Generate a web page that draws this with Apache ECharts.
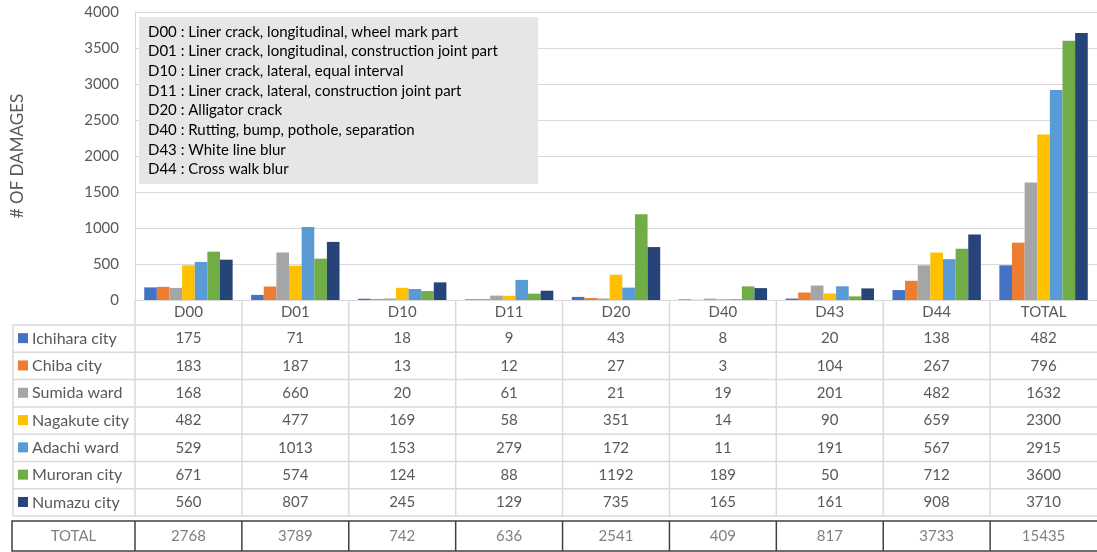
<!DOCTYPE html>
<html>
<head>
<meta charset="utf-8">
<script src="https://cdn.jsdelivr.net/npm/echarts@6/dist/echarts.min.js"></script>
<style>
html,body{margin:0;padding:0;background:#fff;}
#main{width:1097px;height:552px;}
</style>
</head>
<body>
<div id="main"></div>
<script>
// ---- data ----
const categories = ['D00', 'D01', 'D10', 'D11', 'D20', 'D40', 'D43', 'D44', 'TOTAL'];
const cities = ['Ichihara city', 'Chiba city', 'Sumida ward', 'Nagakute city', 'Adachi ward', 'Muroran city', 'Numazu city'];
const ichihara = [175, 71, 18, 9, 43, 8, 20, 138, 482];
const chiba    = [183, 187, 13, 12, 27, 3, 104, 267, 796];
const sumida   = [168, 660, 20, 61, 21, 19, 201, 482, 1632];
const nagakute = [482, 477, 169, 58, 351, 14, 90, 659, 2300];
const adachi   = [529, 1013, 153, 279, 172, 11, 191, 567, 2915];
const muroran  = [671, 574, 124, 88, 1192, 189, 50, 712, 3600];
const numazu   = [560, 807, 245, 129, 735, 165, 161, 908, 3710];
const columnTotals = [2768, 3789, 742, 636, 2541, 409, 817, 3733, 15435];
const totalLabel = 'TOTAL';
const yTicks = [0, 500, 1000, 1500, 2000, 2500, 3000, 3500, 4000];
const yTitle = '# OF DAMAGES';
const noteLines = [
  'D00 : Liner crack, longitudinal, wheel mark part',
  'D01 : Liner crack, longitudinal, construction joint part',
  'D10 : Liner crack, lateral, equal interval',
  'D11 : Liner crack, lateral, construction joint part',
  'D20 : Alligator crack',
  'D40 : Rutting, bump, pothole, separation',
  'D43 : White line blur',
  'D44 : Cross walk blur'
];
const seriesValues = [ichihara, chiba, sumida, nagakute, adachi, muroran, numazu];
const colors = ['#4472C4', '#ED7D31', '#A5A5A5', '#FFC000', '#5B9BD5', '#70AD47', '#264478'];

const FONT = 'Lato';
const TXT = '#595959';
const GRID = '#D9D9D9';

const chart = echarts.init(document.getElementById('main'));
const option = {
  animation: false,
  grid: { left: 135, right: -6, top: 12, bottom: 252 },
  xAxis: {
    type: 'category',
    data: categories,
    axisLine: { lineStyle: { color: GRID, width: 1 } },
    axisTick: { show: false },
    axisLabel: { color: TXT, fontFamily: FONT, fontSize: 15, margin: 5 }
  },
  yAxis: {
    type: 'value',
    min: yTicks[0],
    max: yTicks[yTicks.length - 1],
    interval: yTicks[1] - yTicks[0],
    axisLine: { show: true, lineStyle: { color: GRID } },
    axisTick: { show: false },
    splitLine: { lineStyle: { color: GRID } },
    axisLabel: { color: TXT, fontFamily: FONT, fontSize: 15, margin: 16, formatter: v => String(v) }
  },
  series: seriesValues.map((vals, i) => ({
    name: cities[i],
    type: 'bar',
    data: vals,
    barGap: '0%',
    barCategoryGap: '17.3%',
    itemStyle: { color: colors[i] }
  }))
};
chart.setOption(option);

// ---- table & annotations built from data, positioned via the axis scale ----
const centers = categories.map((c, i) => chart.convertToPixel({ xAxisIndex: 0 }, i));
const band = centers[1] - centers[0];
const yBase = chart.convertToPixel({ yAxisIndex: 0 }, 0);
const leftEdge = centers[0] - band / 2;
const tableLeft = 13;
const headerBottom = 325;
const rowH = 27.3;
const rowsBottom = headerBottom + rowH * cities.length;
const totTop = 521, totBottom = 551;

const g = [];
// legend note box
g.push({ type: 'rect', shape: { x: 139, y: 17, width: 399, height: 167 }, style: { fill: '#E6E6E6' }, z: 10 });
noteLines.forEach((t, i) => {
  g.push({ type: 'text', x: 148, y: 31.7 + i * 19.66, z: 11,
    style: { text: t, fill: '#000', font: '15px ' + FONT, verticalAlign: 'middle' } });
});
// y title
g.push({ type: 'text', x: 18, y: 156, rotation: Math.PI / 2, z: 11,
  style: { text: yTitle, fill: TXT, font: '17px ' + FONT, align: 'center', verticalAlign: 'middle' } });

// light table grid
const lines = [];
for (let i = 0; i <= cities.length; i++) {
  const y = headerBottom + rowH * i;
  lines.push([tableLeft, y, 1100, y]);
}
lines.push([tableLeft, headerBottom, tableLeft, rowsBottom]);
lines.push([leftEdge, yBase, leftEdge, rowsBottom]);
for (let i = 1; i < categories.length; i++) {
  const x = centers[i] - band / 2;
  lines.push([x, yBase, x, rowsBottom]);
}
lines.forEach(l => g.push({ type: 'line', shape: { x1: l[0], y1: l[1], x2: l[2], y2: l[3] },
  style: { stroke: GRID, lineWidth: 1.5 }, z: 5 }));

// rows
cities.forEach((name, r) => {
  const cy = headerBottom + rowH * (r + 0.5);
  g.push({ type: 'rect', shape: { x: 18, y: cy - 5.5, width: 10, height: 10 }, style: { fill: colors[r] }, z: 6 });
  g.push({ type: 'text', x: 32, y: cy, z: 6,
    style: { text: name, fill: TXT, font: '16px ' + FONT, verticalAlign: 'middle' } });
  seriesValues[r].forEach((v, c) => {
    g.push({ type: 'text', x: centers[c], y: cy, z: 6,
      style: { text: String(v), fill: TXT, font: '15px ' + FONT, align: 'center', verticalAlign: 'middle' } });
  });
});

// total row (dark border)
const DARK = '#404040';
g.push({ type: 'rect', shape: { x: 12, y: totTop, width: 1100, height: totBottom - totTop },
  style: { fill: 'none', stroke: DARK, lineWidth: 1.5 }, z: 6 });
g.push({ type: 'line', shape: { x1: leftEdge, y1: totTop, x2: leftEdge, y2: totBottom }, style: { stroke: DARK, lineWidth: 1.5 }, z: 6 });
for (let i = 1; i < categories.length; i++) {
  const x = centers[i] - band / 2;
  g.push({ type: 'line', shape: { x1: x, y1: totTop, x2: x, y2: totBottom }, style: { stroke: DARK, lineWidth: 1.5 }, z: 6 });
}
const totCy = (totTop + totBottom) / 2;
g.push({ type: 'text', x: (12 + leftEdge) / 2, y: totCy, z: 6,
  style: { text: totalLabel, fill: '#808080', font: '15px ' + FONT, align: 'center', verticalAlign: 'middle' } });
columnTotals.forEach((v, c) => {
  g.push({ type: 'text', x: centers[c], y: totCy, z: 6,
    style: { text: String(v), fill: '#808080', font: '15px ' + FONT, align: 'center', verticalAlign: 'middle' } });
});

chart.setOption({ graphic: g });
</script>
</body>
</html>
